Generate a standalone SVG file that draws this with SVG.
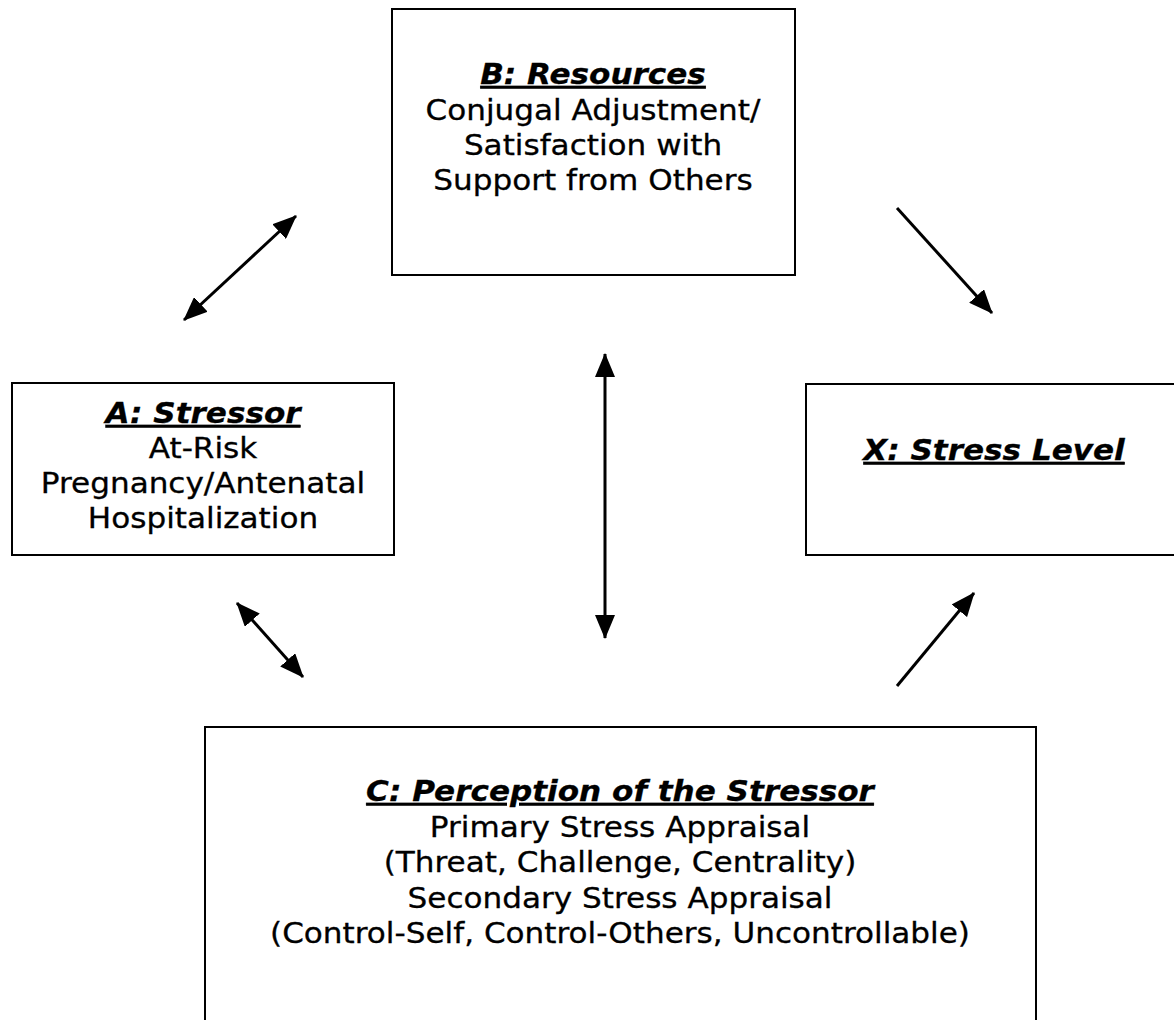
<svg xmlns="http://www.w3.org/2000/svg" width="1174" height="1020" viewBox="0 0 1174 1020">
  <style>
    .box { fill: #ffffff; stroke: #000000; stroke-width: 2; }
    .t { font-family: "DejaVu Sans", Verdana, sans-serif; font-size: 28px; fill: #000000; text-anchor: middle; stroke: #000000; stroke-width: 0.3; }
    .h { font-weight: bold; font-style: italic; text-decoration: underline; }
    .link { stroke: #000000; stroke-width: 3; fill: none; }
  </style>
  <defs>
    <marker id="head" viewBox="0 0 24 20" refX="23" refY="10" markerWidth="24" markerHeight="20" markerUnits="userSpaceOnUse" orient="auto-start-reverse">
      <path d="M0,0 L24,10 L0,20 Z" fill="#000000"/>
    </marker>
  </defs>
  <rect width="1174" height="1020" fill="#ffffff"/>

  <!-- B: Resources -->
  <g id="node-b">
    <rect class="box" x="392" y="9" width="403" height="266"/>
    <g transform="translate(593 0) scale(1.11 1)">
      <text class="t h" x="0" y="84">B: Resources</text>
      <text class="t" x="0" y="120">Conjugal Adjustment/</text>
      <text class="t" x="0" y="155">Satisfaction with</text>
      <text class="t" x="0" y="190">Support from Others</text>
    </g>
  </g>

  <!-- A: Stressor -->
  <g id="node-a">
    <rect class="box" x="12" y="383" width="382" height="172"/>
    <g transform="translate(203 0) scale(1.11 1)">
      <text class="t h" x="0" y="423">A: Stressor</text>
      <text class="t" x="0" y="458">At-Risk</text>
      <text class="t" x="0" y="493">Pregnancy/Antenatal</text>
      <text class="t" x="0" y="528">Hospitalization</text>
    </g>
  </g>

  <!-- X: Stress Level -->
  <g id="node-x">
    <rect class="box" x="806" y="384" width="380" height="171"/>
    <g transform="translate(994 0) scale(1.11 1)">
      <text class="t h" x="0" y="460">X: Stress Level</text>
    </g>
  </g>

  <!-- C: Perception of the Stressor -->
  <g id="node-c">
    <rect class="box" x="205" y="727" width="831" height="310"/>
    <g transform="translate(620 0) scale(1.11 1)">
      <text class="t h" x="0" y="801">C: Perception of the Stressor</text>
      <text class="t" x="0" y="837">Primary Stress Appraisal</text>
      <text class="t" x="0" y="872">(Threat, Challenge, Centrality)</text>
      <text class="t" x="0" y="908">Secondary Stress Appraisal</text>
      <text class="t" x="0" y="943">(Control-Self, Control-Others, Uncontrollable)</text>
    </g>
  </g>

  <!-- connectors -->
  <g id="connectors">
    <line class="link" x1="184" y1="320" x2="296" y2="216" marker-start="url(#head)" marker-end="url(#head)"/>
    <line class="link" x1="897" y1="208" x2="992" y2="313" marker-end="url(#head)"/>
    <line class="link" x1="605" y1="354" x2="605" y2="638" marker-start="url(#head)" marker-end="url(#head)"/>
    <line class="link" x1="237" y1="603" x2="303" y2="677" marker-start="url(#head)" marker-end="url(#head)"/>
    <line class="link" x1="897" y1="686" x2="974" y2="593" marker-end="url(#head)"/>
  </g>
</svg>
